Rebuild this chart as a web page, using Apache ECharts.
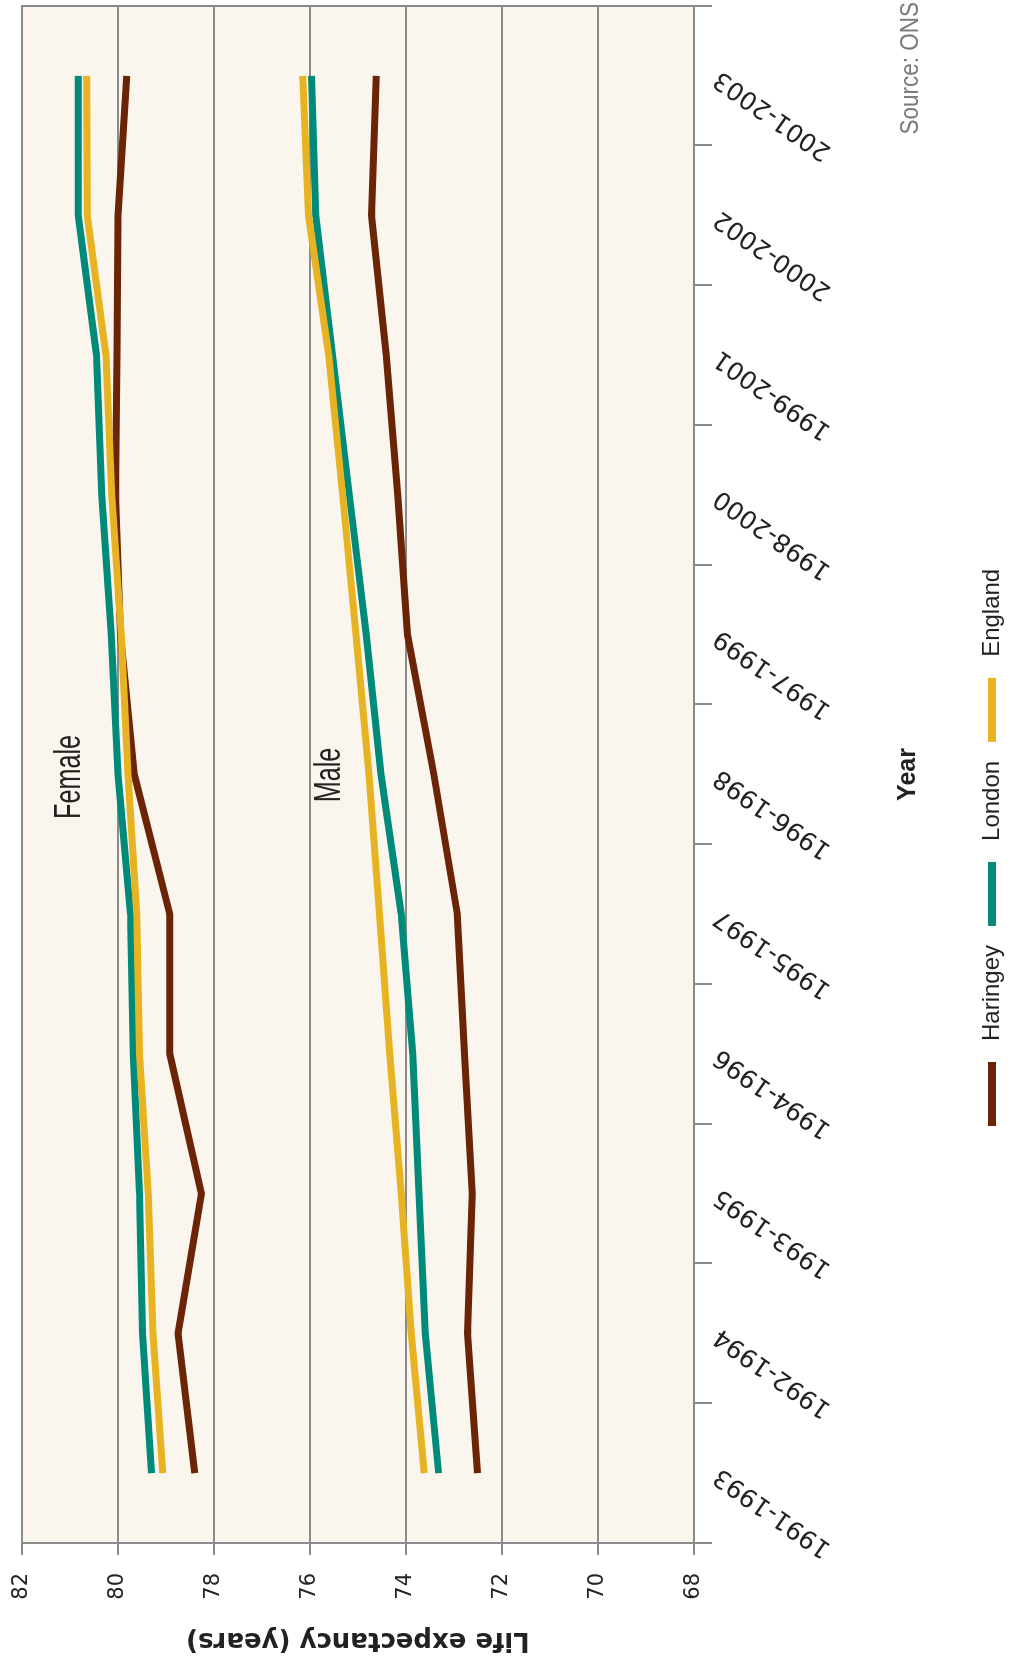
<!DOCTYPE html>
<html>
<head>
<meta charset="utf-8">
<title>Life expectancy - Haringey, London, England</title>
<script src="https://cdn.jsdelivr.net/npm/echarts@6/dist/echarts.min.js"></script>
<style>
  html, body { margin: 0; padding: 0; background: #fff; overflow: hidden; }
  /* chart is drawn landscape, then turned a quarter left to fit the page */
  #chart {
    position: absolute; left: 0; top: 0;
    width: 1663px; height: 1029px;
    transform-origin: 0 0;
    transform: translateY(1663px) rotate(-90deg);
  }
</style>
</head>
<body>
<div id="chart"></div>
<script>
  // three-year periods
  const periods = ['1991-1993', '1992-1994', '1993-1995', '1994-1996', '1995-1997', '1996-1998',
    '1997-1999', '1998-2000', '1999-2001', '2000-2002', '2001-2003'];

  // life expectancy at birth (years)
  const haringeyFemale = [78.40, 78.75, 78.26, 78.92, 78.92, 79.66, 79.95, 80.05, 80.02, 80.00, 79.82];
  const londonFemale   = [79.30, 79.49, 79.55, 79.68, 79.74, 80.00, 80.14, 80.34, 80.45, 80.83, 80.83];
  const englandFemale  = [79.07, 79.27, 79.37, 79.55, 79.61, 79.79, 79.93, 80.13, 80.25, 80.64, 80.65];
  const haringeyMale   = [72.51, 72.72, 72.62, 72.78, 72.93, 73.42, 73.97, 74.17, 74.41, 74.72, 74.62];
  const londonMale     = [73.32, 73.60, 73.73, 73.86, 74.10, 74.52, 74.83, 75.18, 75.53, 75.88, 75.97];
  const englandMale    = [73.62, 73.89, 74.10, 74.34, 74.55, 74.77, 75.04, 75.32, 75.61, 76.03, 76.15];

  const areaNames = ['Haringey', 'London', 'England'];
  const colorList = ['#6b2405', '#008a7a', '#e7b322'];

  const textColor = '#222';
  const lineGrey = '#8a8a8a';

  function makeLine(name, data, color) {
    return {
      name: name,
      type: 'line',
      data: data,
      showSymbol: false,
      symbol: 'none',
      silent: true,
      color: color,
      lineStyle: { width: 7, color: color, join: 'miter', cap: 'butt' }
    };
  }

  var chart = echarts.init(document.getElementById('chart'), null, { renderer: 'canvas' });

  chart.setOption({
    backgroundColor: '#fff',
    animation: false,
    grid: {
      left: 120,
      right: 6,
      top: 22,
      bottom: 335,
      show: true,
      backgroundColor: '#faf6ee',
      borderColor: lineGrey,
      borderWidth: 2
    },
    legend: {
      data: areaNames,
      left: 537,
      top: 980,
      padding: 0,
      icon: 'rect',
      itemWidth: 64,
      itemHeight: 8,
      itemGap: 19,
      selectedMode: false,
      textStyle: {
        color: textColor,
        fontSize: 24,
        fontFamily: 'Liberation Sans',
        padding: [0, 0, 0, 16]
      }
    },
    xAxis: {
      type: 'category',
      data: periods,
      boundaryGap: true,
      name: 'Year',
      nameLocation: 'middle',
      nameGap: 202,
      nameTextStyle: { color: textColor, fontSize: 25, fontWeight: 'bold', fontFamily: 'Liberation Sans' },
      axisLine: { lineStyle: { color: lineGrey, width: 2 } },
      axisTick: { show: true, length: 18, interval: 0, lineStyle: { color: lineGrey, width: 2 } },
      axisLabel: {
        interval: 0,
        rotate: 55,
        margin: 23,
        color: textColor,
        fontSize: 25,
        fontFamily: 'DejaVu Sans'
      },
      splitLine: { show: false }
    },
    yAxis: {
      type: 'value',
      min: 68,
      max: 82,
      interval: 2,
      name: 'Life expectancy (years)',
      nameLocation: 'middle',
      nameGap: 84,
      nameTextStyle: { color: textColor, fontSize: 26, fontWeight: 'bold', fontFamily: 'DejaVu Sans' },
      axisLine: { show: true, lineStyle: { color: lineGrey, width: 2 } },
      axisTick: { show: true, length: 12, lineStyle: { color: lineGrey, width: 2 } },
      axisLabel: { margin: 30, color: textColor, fontSize: 21, fontFamily: 'DejaVu Sans' },
      splitLine: { show: true, lineStyle: { color: lineGrey, width: 2 } }
    },
    graphic: [
      {
        type: 'text', x: 886, y: 70, scaleX: 0.7, silent: true,
        style: { text: 'Female', fill: textColor, fontSize: 36, fontFamily: 'Liberation Sans', align: 'center', verticalAlign: 'middle' }
      },
      {
        type: 'text', x: 888, y: 330, scaleX: 0.7, silent: true,
        style: { text: 'Male', fill: textColor, fontSize: 36, fontFamily: 'Liberation Sans', align: 'center', verticalAlign: 'middle' }
      },
      {
        type: 'text', x: 1661, y: 911, scaleX: 0.9, silent: true,
        style: { text: 'Source: ONS', fill: '#7a7a7a', fontSize: 25, fontFamily: 'Liberation Sans', align: 'right', verticalAlign: 'middle' }
      }
    ],
    series: [
      makeLine('Haringey', haringeyFemale, colorList[0]),
      makeLine('Haringey', haringeyMale, colorList[0]),
      makeLine('London', londonFemale, colorList[1]),
      makeLine('London', londonMale, colorList[1]),
      makeLine('England', englandFemale, colorList[2]),
      makeLine('England', englandMale, colorList[2])
    ]
  });
</script>
</body>
</html>
